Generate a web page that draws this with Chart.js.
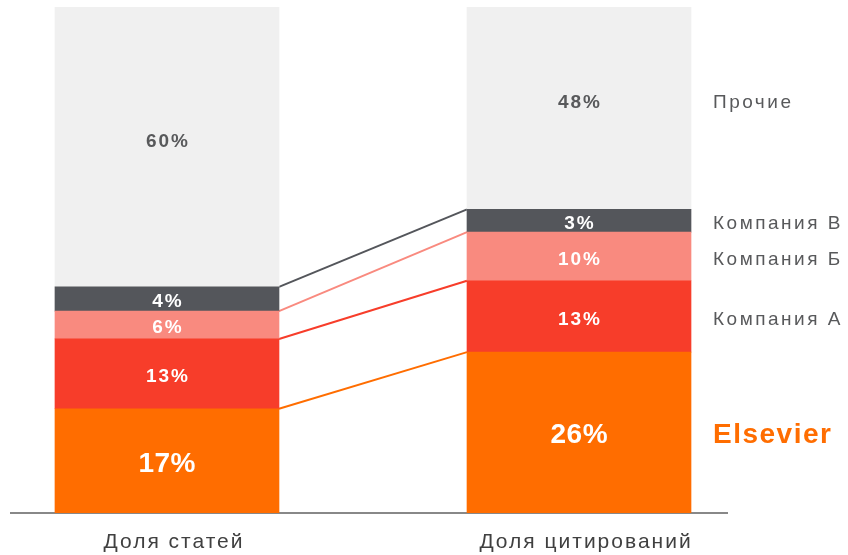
<!DOCTYPE html>
<html>
<head>
<meta charset="utf-8">
<script src="https://cdn.jsdelivr.net/npm/chart.js@4"></script>
<style>
  html, body { margin: 0; padding: 0; background: #fff; }
  #wrap { width: 848px; height: 555px; }
</style>
</head>
<body>
<div id="wrap"><canvas id="myChart"></canvas></div>
<script>
// bar heights (share of the column, %)
var categories = ['Доля статей', 'Доля цитирований'];
var elsevier = [20.6, 31.8];
var companyA = [13.8, 14.1];
var companyB = [5.5, 9.6];
var companyV = [4.8, 4.5];
var others = [55.3, 40.0];
// printed labels
var elsevierText = ['17%', '26%'];
var companyAText = ['13%', '13%'];
var companyBText = ['6%', '10%'];
var companyVText = ['4%', '3%'];
var othersText = ['60%', '48%'];
var seriesNames = ['Elsevier', 'Компания А', 'Компания Б', 'Компания В', 'Прочие'];

var FONT = '"Liberation Sans", Arial, sans-serif';
var GREY_TEXT = '#58595B';

function pts(arr) {
  return arr.map(function (v, i) { return { x: i + 1, y: v }; });
}

function ds(name, values, texts, color, textColor, big, legendColor) {
  return {
    label: name,
    data: pts(values),
    texts: texts,
    backgroundColor: color,
    textColor: textColor,
    big: big,
    legendColor: legendColor,
    barThickness: 224,
    borderWidth: 0
  };
}

// draws text centred (or left aligned) ignoring the trailing letter gap
function spacedText(ctx, txt, x, y, spacing, align) {
  ctx.letterSpacing = spacing + 'px';
  var w = ctx.measureText(txt).width - spacing;
  ctx.textAlign = 'left';
  var sx = align === 'center' ? x - w / 2 : x;
  ctx.fillText(txt, sx, y);
}

var barLabels = {
  id: 'barLabels',
  beforeDraw: function (chart) {
    chart.ctx.letterSpacing = '2px';
  },
  beforeDatasetsDraw: function (chart) {
    // connectors between column segments
    var ctx = chart.ctx;
    ctx.save();
    chart.data.datasets.forEach(function (d, di) {
      if (d.label === 'Прочие') return;
      var bars = chart.getDatasetMeta(di).data;
      var a = bars[0], b = bars[1];
      ctx.beginPath();
      ctx.moveTo(a.x + a.width / 2, a.y);
      ctx.lineTo(b.x - b.width / 2, b.y);
      ctx.strokeStyle = d.backgroundColor;
      ctx.lineWidth = 2;
      ctx.stroke();
    });
    ctx.restore();
  },
  afterDatasetsDraw: function (chart) {
    var ctx = chart.ctx;
    ctx.save();
    ctx.textBaseline = 'middle';
    chart.data.datasets.forEach(function (d, di) {
      var bars = chart.getDatasetMeta(di).data;
      var off = d.label === 'Прочие' ? -5 : 3;
      bars.forEach(function (bar, i) {
        var cy = (bar.y + bar.base) / 2 + off;
        ctx.font = 'bold ' + (d.big ? 28 : 19) + 'px ' + FONT;
        ctx.fillStyle = d.textColor;
        spacedText(ctx, d.texts[i], bar.x, cy, d.big ? 0.5 : 2, 'center');
      });
      // series name to the right of the second column
      var last = bars[bars.length - 1];
      var ly = (last.y + last.base) / 2 + off;
      ctx.font = (d.big ? 'bold 28px ' : '19px ') + FONT;
      ctx.fillStyle = d.legendColor;
      spacedText(ctx, d.label, 713, ly, d.big ? 1.5 : 2.5, 'left');
    });
    ctx.restore();
  }
};

var ctx = document.getElementById('myChart').getContext('2d');
var chart = new Chart(ctx, {
  type: 'bar',
  data: {
    datasets: [
      ds(seriesNames[0], elsevier, elsevierText, '#FF6D00', '#FFFFFF', true, '#FF6D00'),
      ds(seriesNames[1], companyA, companyAText, '#F73D2A', '#FFFFFF', false, GREY_TEXT),
      ds(seriesNames[2], companyB, companyBText, '#F98A7F', '#FFFFFF', false, GREY_TEXT),
      ds(seriesNames[3], companyV, companyVText, '#54565B', '#FFFFFF', false, GREY_TEXT),
      ds(seriesNames[4], others, othersText, '#F0F0F0', GREY_TEXT, false, GREY_TEXT)
    ]
  },
  options: {
    responsive: true,
    maintainAspectRatio: false,
    animation: false,
    layout: { padding: { top: 7, left: 11, right: 121, bottom: 0 } },
    plugins: {
      legend: { display: false },
      tooltip: { enabled: false }
    },
    scales: {
      x: {
        type: 'linear',
        stacked: true,
        offset: false,
        min: 0.6214,
        max: 2.3592,
        afterBuildTicks: function (s) { s.ticks = [{ value: 1 }, { value: 2 }]; },
        afterFit: function (s) { s.height = 42; },
        grid: { display: false, drawTicks: false, offset: false },
        border: { display: true, color: '#888888', width: 2 },
        ticks: {
          padding: 17,
          labelOffset: 7,
          autoSkip: false,
          maxRotation: 0,
          color: '#404040',
          font: { family: FONT, size: 21 },
          callback: function (v) { return categories[v - 1]; }
        }
      },
      y: {
        stacked: true,
        display: false,
        min: 0,
        max: 100
      }
    }
  },
  plugins: [barLabels]
});
</script>
</body>
</html>
